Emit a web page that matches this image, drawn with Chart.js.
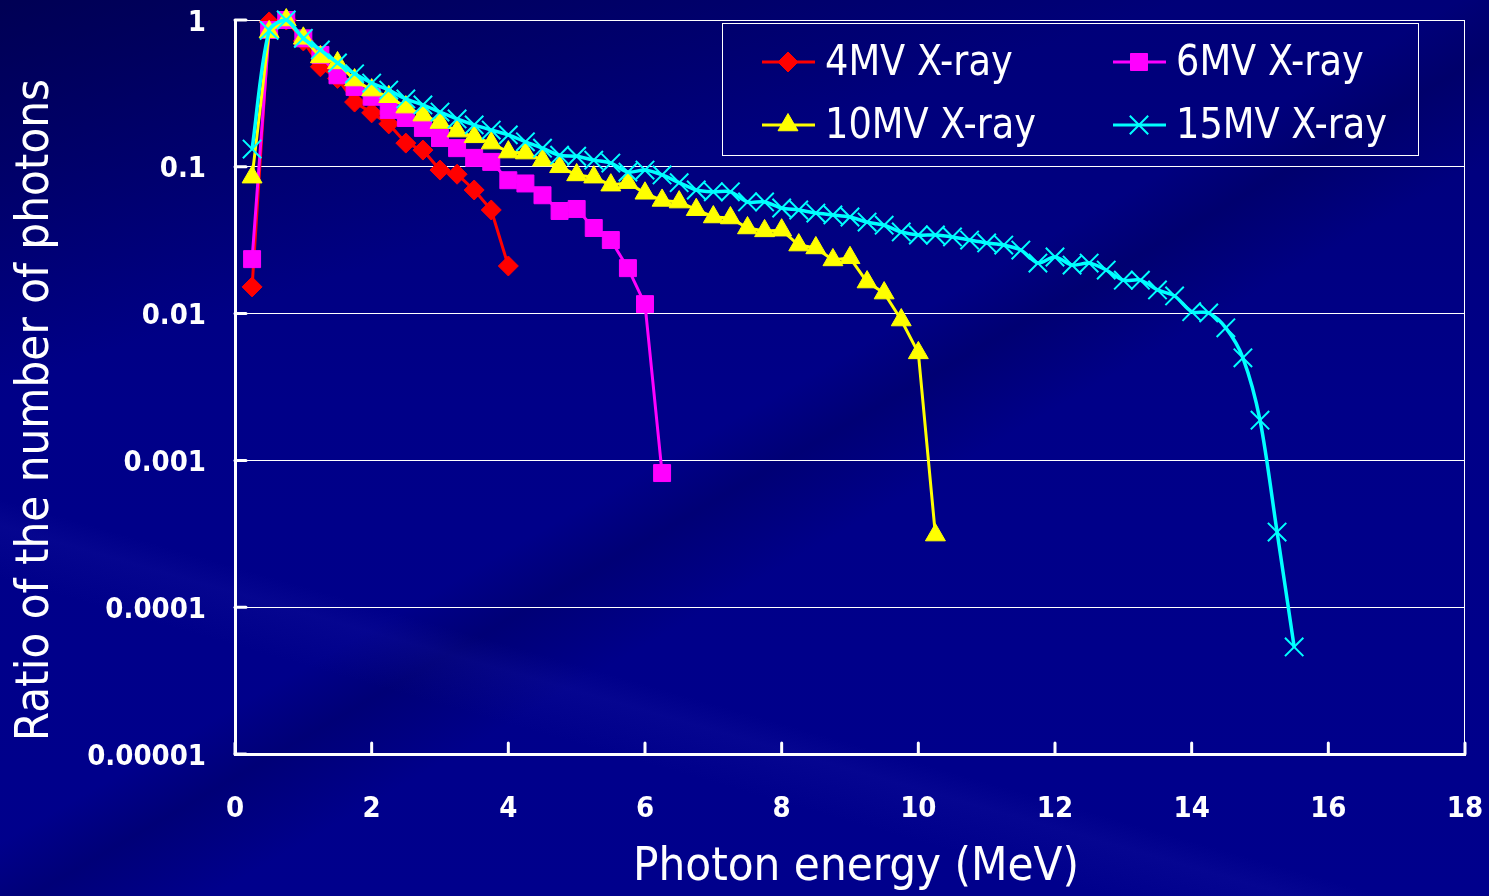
<!DOCTYPE html>
<html>
<head>
<meta charset="utf-8">
<title>Photon spectra</title>
<script src="https://cdn.jsdelivr.net/npm/chart.js@4.4.1/dist/chart.umd.min.js"></script>
<style>
	html, body {
		margin: 0;
		padding: 0;
	}
	body {
		width: 1489px;
		height: 896px;
		overflow: hidden;
		background:
			linear-gradient(162deg, rgba(0, 0, 55, 0.55) 0%, rgba(0, 0, 55, 0) 28%),
			linear-gradient(196deg, rgba(0, 0, 0, 0) 70%, rgba(30, 30, 170, 0.18) 72%, rgba(0, 0, 0, 0) 76%),
			linear-gradient(150deg, rgba(0, 0, 0, 0) 48%, rgba(0, 0, 60, 0.25) 52%, rgba(0, 0, 0, 0) 58%),
			linear-gradient(180deg, #000078 0%, #000088 45%, #00008c 100%);
	}
	#wrap {
		position: relative;
		width: 1489px;
		height: 896px;
	}
</style>
</head>
<body>
<div id="wrap"><canvas id="spectrum" width="1489" height="896"></canvas></div>
<script>
const FONT = '"DejaVu Sans Condensed", "DejaVu Sans", sans-serif';

// photon energy (MeV), one bin every 0.25 MeV
const energies = [
	0.25, 0.5, 0.75, 1.0, 1.25, 1.5, 1.75, 2.0, 2.25, 2.5, 2.75, 3.0, 3.25, 3.5, 3.75, 4.0,
	4.25, 4.5, 4.75, 5.0, 5.25, 5.5, 5.75, 6.0, 6.25, 6.5, 6.75, 7.0, 7.25, 7.5, 7.75, 8.0,
	8.25, 8.5, 8.75, 9.0, 9.25, 9.5, 9.75, 10.0, 10.25, 10.5, 10.75, 11.0, 11.25, 11.5, 11.75, 12.0,
	12.25, 12.5, 12.75, 13.0, 13.25, 13.5, 13.75, 14.0, 14.25, 14.5, 14.75, 15.0, 15.25, 15.5
];

const ratio4MV = [
	0.0152, 0.97, 1.0, 0.72, 0.48, 0.40, 0.276, 0.233, 0.196, 0.145, 0.13, 0.095, 0.089, 0.0695, 0.0508, 0.0211
];

const ratio6MV = [
	0.0235, 0.855, 1.0, 0.75, 0.578, 0.42, 0.35, 0.30, 0.244, 0.215, 0.184, 0.157, 0.134, 0.115, 0.108, 0.081,
	0.077, 0.064, 0.050, 0.0516, 0.0383, 0.0317, 0.0204, 0.0116, 0.00082
];

const ratio10MV = [
	0.085, 0.83, 1.0, 0.75, 0.56, 0.51, 0.39, 0.333, 0.30, 0.255, 0.225, 0.20, 0.175, 0.16, 0.145, 0.126,
	0.124, 0.111, 0.10, 0.088, 0.085, 0.075, 0.078, 0.066, 0.059, 0.0575, 0.051, 0.0455, 0.0448, 0.0383, 0.0366, 0.037,
	0.0293, 0.028, 0.0232, 0.024, 0.0164, 0.0138, 0.00904, 0.0054, 0.00031
];

const ratio15MV = [
	0.132, 0.85, 1.0, 0.75, 0.625, 0.51, 0.43, 0.372, 0.333, 0.29, 0.264, 0.236, 0.212, 0.193, 0.178, 0.165,
	0.148, 0.134, 0.12, 0.118, 0.111, 0.106, 0.092, 0.095, 0.088, 0.078, 0.0695, 0.0675, 0.0675, 0.0576, 0.0576, 0.0524,
	0.0508, 0.0484, 0.047, 0.0455, 0.042, 0.040, 0.036, 0.0343, 0.0343, 0.0333, 0.0317, 0.0303, 0.0293, 0.0271, 0.0221, 0.0243,
	0.0214, 0.0221, 0.0198, 0.0169, 0.0169, 0.0145, 0.0132, 0.0103, 0.0101, 0.008, 0.005, 0.00188, 0.000325, 0.0000536
];

const seriesNames = ["4MV X-ray", "6MV X-ray", "10MV X-ray", "15MV X-ray"];

const xTickValues = [0, 2, 4, 6, 8, 10, 12, 14, 16, 18];
const yTickValues = [0.00001, 0.0001, 0.001, 0.01, 0.1, 1];
const yTickLabels = ["0.00001", "0.0001", "0.001", "0.01", "0.1", "1"];

const xTitle = "Photon energy (MeV)";
const yTitle = "Ratio of the number of photons";

const toPoints = (values) => values.map((v, i) => ({ x: energies[i], y: v }));

// keep the plot frame fixed: no extra room for overhanging tick labels
const noLabelPadding = (scale) => {
	scale.paddingTop = 0;
	scale.paddingBottom = 0;
	scale.paddingLeft = 0;
	scale.paddingRight = 0;
};

// inward tick marks, right frame edge, axis titles and the boxed legend
const frameDecor = {
	id: "frameDecor",
	beforeDatasetsDraw(chart) {
		const { ctx, chartArea: area, scales } = chart;
		ctx.save();
		ctx.strokeStyle = "#ffffff";
		ctx.lineWidth = 1;
		ctx.beginPath();
		ctx.moveTo(area.right - 0.5, area.top);
		ctx.lineTo(area.right - 0.5, area.bottom);
		ctx.stroke();

		ctx.lineWidth = 3;
		ctx.lineCap = "round";
		yTickValues.forEach((v) => {
			const py = scales.y.getPixelForValue(v);
			ctx.beginPath();
			ctx.moveTo(area.left, py);
			ctx.lineTo(area.left + 11, py);
			ctx.stroke();
		});
		xTickValues.forEach((v) => {
			const px = scales.x.getPixelForValue(v);
			ctx.beginPath();
			ctx.moveTo(px, area.bottom);
			ctx.lineTo(px, area.bottom - 11);
			ctx.stroke();
		});
		ctx.restore();
	},
	afterDraw(chart) {
		const { ctx } = chart;
		ctx.save();
		ctx.fillStyle = "#ffffff";
		ctx.textAlign = "center";
		ctx.textBaseline = "middle";
		ctx.font = `47px ${FONT}`;

		ctx.save();
		ctx.translate(36, 410);
		ctx.rotate(-Math.PI / 2);
		ctx.fillText(yTitle, 0, 0);
		ctx.restore();

		ctx.fillText(xTitle, 856, 868);

		// legend box
		ctx.strokeStyle = "#ffffff";
		ctx.lineWidth = 1;
		ctx.strokeRect(722.5, 23.5, 696, 132);

		const slots = [
			[762, 62],
			[1113, 62],
			[762, 125],
			[1113, 125],
		];
		chart.data.datasets.forEach((ds, i) => {
			const [lx, ly] = slots[i];
			ctx.strokeStyle = ds.borderColor;
			ctx.fillStyle = ds.backgroundColor;
			ctx.lineWidth = 3;
			ctx.lineCap = "butt";
			ctx.beginPath();
			ctx.moveTo(lx, ly);
			ctx.lineTo(lx + 53, ly);
			ctx.stroke();

			ctx.lineWidth = ds.pointBorderWidth;
			Chart.helpers.drawPoint(
				ctx,
				{ pointStyle: ds.pointStyle, radius: ds.pointRadius, borderWidth: ds.pointBorderWidth, rotation: 0 },
				lx + 26,
				ly
			);

			ctx.fillStyle = "#ffffff";
			ctx.textAlign = "left";
			ctx.font = `43px ${FONT}`;
			ctx.save();
			ctx.translate(lx + 63, ly + 2);
			ctx.scale(0.95, 1);
			ctx.fillText(ds.label, 0, 0);
			ctx.restore();
		});
		ctx.restore();
	},
};

const canvas = document.getElementById("spectrum");

const config = {
	type: "line",
	data: {
		datasets: [
			{
				label: seriesNames[0],
				data: toPoints(ratio4MV),
				borderColor: "#ff0000",
				backgroundColor: "#ff0000",
				borderWidth: 3,
				pointStyle: "rectRot",
				pointRadius: 10,
				pointBorderWidth: 1,
				clip: false,
				order: 4,
			},
			{
				label: seriesNames[1],
				data: toPoints(ratio6MV),
				borderColor: "#ff00ff",
				backgroundColor: "#ff00ff",
				borderWidth: 3,
				pointStyle: "rect",
				pointRadius: 12,
				pointBorderWidth: 1,
				clip: false,
				order: 3,
			},
			{
				label: seriesNames[2],
				data: toPoints(ratio10MV),
				borderColor: "#ffff00",
				backgroundColor: "#ffff00",
				borderWidth: 3,
				pointStyle: "triangle",
				pointRadius: 11.5,
				pointBorderWidth: 1,
				clip: false,
				order: 2,
			},
			{
				label: seriesNames[3],
				data: toPoints(ratio15MV),
				borderColor: "#00ffff",
				backgroundColor: "#00ffff",
				borderWidth: 3.5,
				pointStyle: "crossRot",
				pointRadius: 13,
				pointBorderWidth: 2,
				tension: 0.3,
				clip: false,
				order: 1,
			},
		],
	},
	options: {
		responsive: false,
		animation: false,
		devicePixelRatio: 1,
		layout: {
			autoPadding: false,
			padding: { top: 20, right: 24, left: 0, bottom: 0 },
		},
		plugins: {
			legend: { display: false },
			tooltip: { enabled: false },
		},
		scales: {
			x: {
				type: "linear",
				min: 0,
				max: 18,
				afterBuildTicks: (scale) => {
					scale.ticks = xTickValues.map((v) => ({ value: v }));
				},
				afterFit: (scale) => {
					scale.height = 142;
					noLabelPadding(scale);
				},
				grid: { display: false, drawTicks: false },
				border: { color: "#ffffff", width: 3 },
				ticks: {
					color: "#ffffff",
					font: { family: FONT, size: 29, weight: "bold" },
					padding: 38,
					maxRotation: 0,
					autoSkip: false,
				},
			},
			y: {
				type: "logarithmic",
				min: 0.00001,
				max: 1,
				afterBuildTicks: (scale) => {
					scale.ticks = yTickValues.map((v) => ({ value: v }));
				},
				afterFit: (scale) => {
					scale.width = 235;
					noLabelPadding(scale);
				},
				grid: { color: "#ffffff", lineWidth: 1, drawTicks: false },
				border: { color: "#ffffff", width: 3 },
				ticks: {
					color: "#ffffff",
					font: { family: FONT, size: 29, weight: "bold" },
					padding: 29,
					labelOffset: 3,
					autoSkip: false,
					callback: (value, index) => yTickLabels[index],
				},
			},
		},
	},
	plugins: [frameDecor],
};

new Chart(canvas, config);
</script>
</body>
</html>
